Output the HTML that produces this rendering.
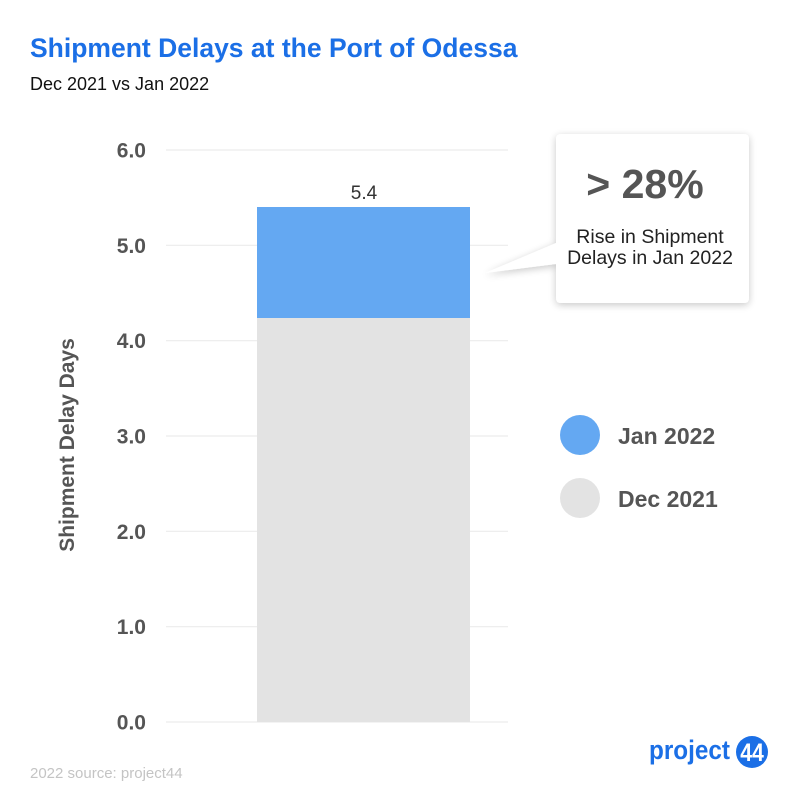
<!DOCTYPE html>
<html>
<head>
<meta charset="utf-8">
<style>
html,body{margin:0;padding:0;background:#fff;}
svg{display:block;}
text{font-family:"Liberation Sans",Arial,sans-serif;}
</style>
</head>
<body>
<svg width="800" height="800" viewBox="0 0 800 800" xmlns="http://www.w3.org/2000/svg">
<defs>
<filter id="sh" x="-30%" y="-30%" width="160%" height="170%">
<feGaussianBlur in="SourceAlpha" stdDeviation="4"/>
<feOffset dx="0" dy="2" result="b"/>
<feComponentTransfer><feFuncA type="linear" slope="0.22"/></feComponentTransfer>
<feMerge><feMergeNode/><feMergeNode in="SourceGraphic"/></feMerge>
</filter>
</defs>
<rect width="800" height="800" fill="#fff"/>
<text x="30" y="57" font-size="26.5" font-weight="bold" fill="#1b6fe6">Shipment Delays at the Port of Odessa</text>
<text x="30" y="90" font-size="18" fill="#111">Dec 2021 vs Jan 2022</text>

<g stroke="#ececec" stroke-width="1.2">
<line x1="166" y1="150" x2="508" y2="150"/>
<line x1="166" y1="245.3" x2="508" y2="245.3"/>
<line x1="166" y1="340.7" x2="508" y2="340.7"/>
<line x1="166" y1="436" x2="508" y2="436"/>
<line x1="166" y1="531.3" x2="508" y2="531.3"/>
<line x1="166" y1="626.7" x2="508" y2="626.7"/>
<line x1="166" y1="722" x2="508" y2="722"/>
</g>
<g font-size="21" font-weight="bold" fill="#555" text-anchor="end">
<text x="146" y="157.5">6.0</text>
<text x="146" y="252.8">5.0</text>
<text x="146" y="348.2">4.0</text>
<text x="146" y="443.5">3.0</text>
<text x="146" y="538.8">2.0</text>
<text x="146" y="634.2">1.0</text>
<text x="146" y="729.5">0.0</text>
</g>
<text transform="translate(74,445) rotate(-90)" font-size="21" font-weight="bold" fill="#555" text-anchor="middle">Shipment Delay Days</text>

<rect x="257" y="318" width="213" height="404" fill="#e3e3e3"/>
<rect x="257" y="207" width="213" height="111" fill="#64a8f2"/>
<text x="364" y="199" font-size="19" fill="#333" text-anchor="middle">5.4</text>

<g filter="url(#sh)">
<path d="M561,134 H744 Q749,134 749,139 V298 Q749,303 744,303 H561 Q556,303 556,298 V264 L485,273 L556,243 V139 Q556,134 561,134 Z" fill="#fff"/>
</g>
<text x="645" y="198" font-size="41" font-weight="bold" fill="#555" text-anchor="middle">&gt; 28%</text>
<text x="650" y="243" font-size="19.5" fill="#222" text-anchor="middle">Rise in Shipment</text>
<text x="650" y="264" font-size="19.5" fill="#222" text-anchor="middle">Delays in Jan 2022</text>

<circle cx="580" cy="435" r="20" fill="#64a8f2"/>
<circle cx="580" cy="498" r="20" fill="#e3e3e3"/>
<text x="618" y="444" font-size="23" font-weight="bold" fill="#555">Jan 2022</text>
<text x="618" y="507" font-size="23" font-weight="bold" fill="#555">Dec 2021</text>

<text x="30" y="778" font-size="15" fill="#c4c4c4">2022 source: project44</text>

<text transform="translate(649,759) scale(0.9,1)" font-size="27" font-weight="bold" fill="#1b6fe6">project</text>
<circle cx="752" cy="752" r="16" fill="#1b6fe6"/>
<text transform="translate(752,761) scale(0.85,1)" font-size="25" font-weight="bold" fill="#fff" text-anchor="middle">44</text>
</svg>
</body>
</html>
